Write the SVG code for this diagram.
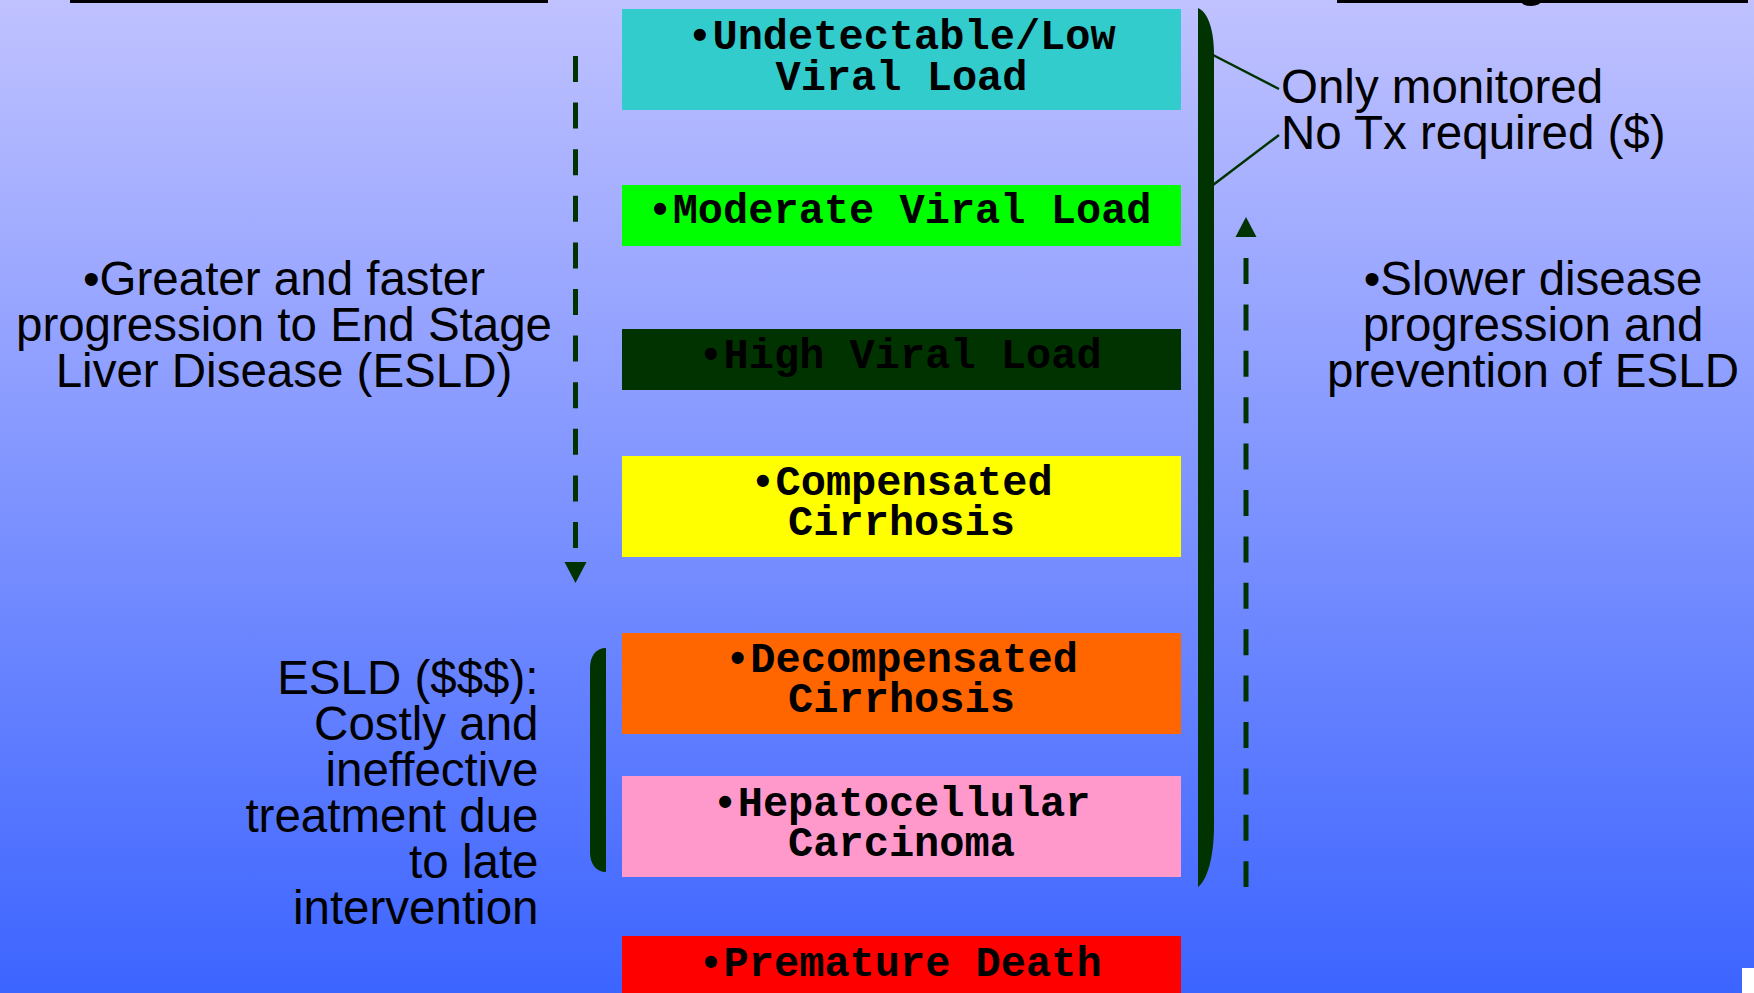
<svg xmlns="http://www.w3.org/2000/svg" width="1754" height="993" viewBox="0 0 1754 993">
  <defs>
    <linearGradient id="bg" x1="0" y1="0" x2="0" y2="1">
      <stop offset="0" stop-color="#C0C2FF"/>
      <stop offset="1" stop-color="#3C64FF"/>
    </linearGradient>
  </defs>
  <style>
    .box text { font-family: "Liberation Mono", "Courier New", monospace; font-weight: bold; font-size: 42px; fill: #000; text-anchor: middle; }
    .lbl { font-family: "Liberation Sans", Arial, sans-serif; font-size: 47.5px; fill: #000; }
    .dash { stroke: #003300; stroke-width: 5; fill: none; }
    .dk { fill: #003300; }
    .thin { stroke: #003300; stroke-width: 2.5; fill: none; }
  </style>

  <rect x="0" y="0" width="1754" height="993" fill="url(#bg)"/>

  <!-- clipped top rules -->
  <rect x="70" y="0" width="478" height="3" fill="#000"/>
  <rect x="1337" y="0" width="411" height="3" fill="#000"/>
  <ellipse cx="1531" cy="0" rx="11" ry="6" fill="#000"/>
  <rect x="1742" y="968" width="12" height="25" fill="#fff"/>

  <!-- nodes -->
  <g id="n-undetectable" class="box">
    <rect x="622" y="9" width="559" height="101" fill="#33CCCC"/>
    <text x="901.5" y="49">•Undetectable/Low</text>
    <text x="901.5" y="90">Viral Load</text>
  </g>
  <g id="n-moderate" class="box">
    <rect x="622" y="185" width="559" height="61" fill="#00FF00"/>
    <text x="899.5" y="223">•Moderate Viral Load</text>
  </g>
  <g id="n-high" class="box">
    <rect x="622" y="329" width="559" height="61" fill="#003300"/>
    <text x="900" y="368">•High Viral Load</text>
  </g>
  <g id="n-compensated" class="box">
    <rect x="622" y="456" width="559" height="101" fill="#FFFF00"/>
    <text x="901.5" y="495">•Compensated</text>
    <text x="901.5" y="535">Cirrhosis</text>
  </g>
  <g id="n-decompensated" class="box">
    <rect x="622" y="633" width="559" height="101" fill="#FF6600"/>
    <text x="901.5" y="672">•Decompensated</text>
    <text x="901.5" y="712">Cirrhosis</text>
  </g>
  <g id="n-hcc" class="box">
    <rect x="622" y="776" width="559" height="101" fill="#FF99CC"/>
    <text x="901.5" y="816">•Hepatocellular</text>
    <text x="901.5" y="856">Carcinoma</text>
  </g>
  <g id="n-death" class="box">
    <rect x="622" y="936" width="559" height="57" fill="#FF0000"/>
    <text x="900" y="976">•Premature Death</text>
  </g>

  <g id="t-left-top" class="lbl" text-anchor="middle">
    <text x="284" y="295">•Greater and faster</text>
    <text x="284" y="341">progression to End Stage</text>
    <text x="284" y="387">Liver Disease (ESLD)</text>
  </g>
  <g id="t-right" class="lbl" text-anchor="middle">
    <text x="1533" y="295">•Slower disease</text>
    <text x="1533" y="341">progression and</text>
    <text x="1533" y="387">prevention of ESLD</text>
  </g>
  <g id="t-monitor" class="lbl">
    <text x="1281" y="103">Only monitored</text>
    <text x="1281" y="149">No Tx required ($)</text>
  </g>
  <g id="t-esld" class="lbl" text-anchor="end">
    <text x="538.5" y="694">ESLD ($$$):</text>
    <text x="538.5" y="740">Costly and</text>
    <text x="538.5" y="786">ineffective</text>
    <text x="538.5" y="832">treatment due</text>
    <text x="538.5" y="878">to late</text>
    <text x="538.5" y="924">intervention</text>
  </g>

  <!-- connectors -->
  <g id="connectors">
    <line class="dash" x1="575.5" y1="56" x2="575.5" y2="549" stroke-dasharray="26 20.6"/>
    <polygon class="dk" points="564.5,562 586.5,562 575.5,583"/>
    <line class="dash" x1="1246" y1="258" x2="1246" y2="887" stroke-dasharray="26 20.4"/>
    <polygon class="dk" points="1235.5,237 1256.5,237 1246,217"/>
    <path class="dk" d="M1198,8 C1208,12 1214,30 1214,55 L1214,825 C1214,858 1207,880 1198,887 Z"/>
    <path class="dk" d="M606,648 L606,872 C596,872 590,864 590,852 L590,668 C590,656 596,648 606,648 Z"/>
    <line class="thin" x1="1213" y1="55" x2="1279" y2="89"/>
    <line class="thin" x1="1279" y1="135" x2="1213" y2="185"/>
  </g>
</svg>
